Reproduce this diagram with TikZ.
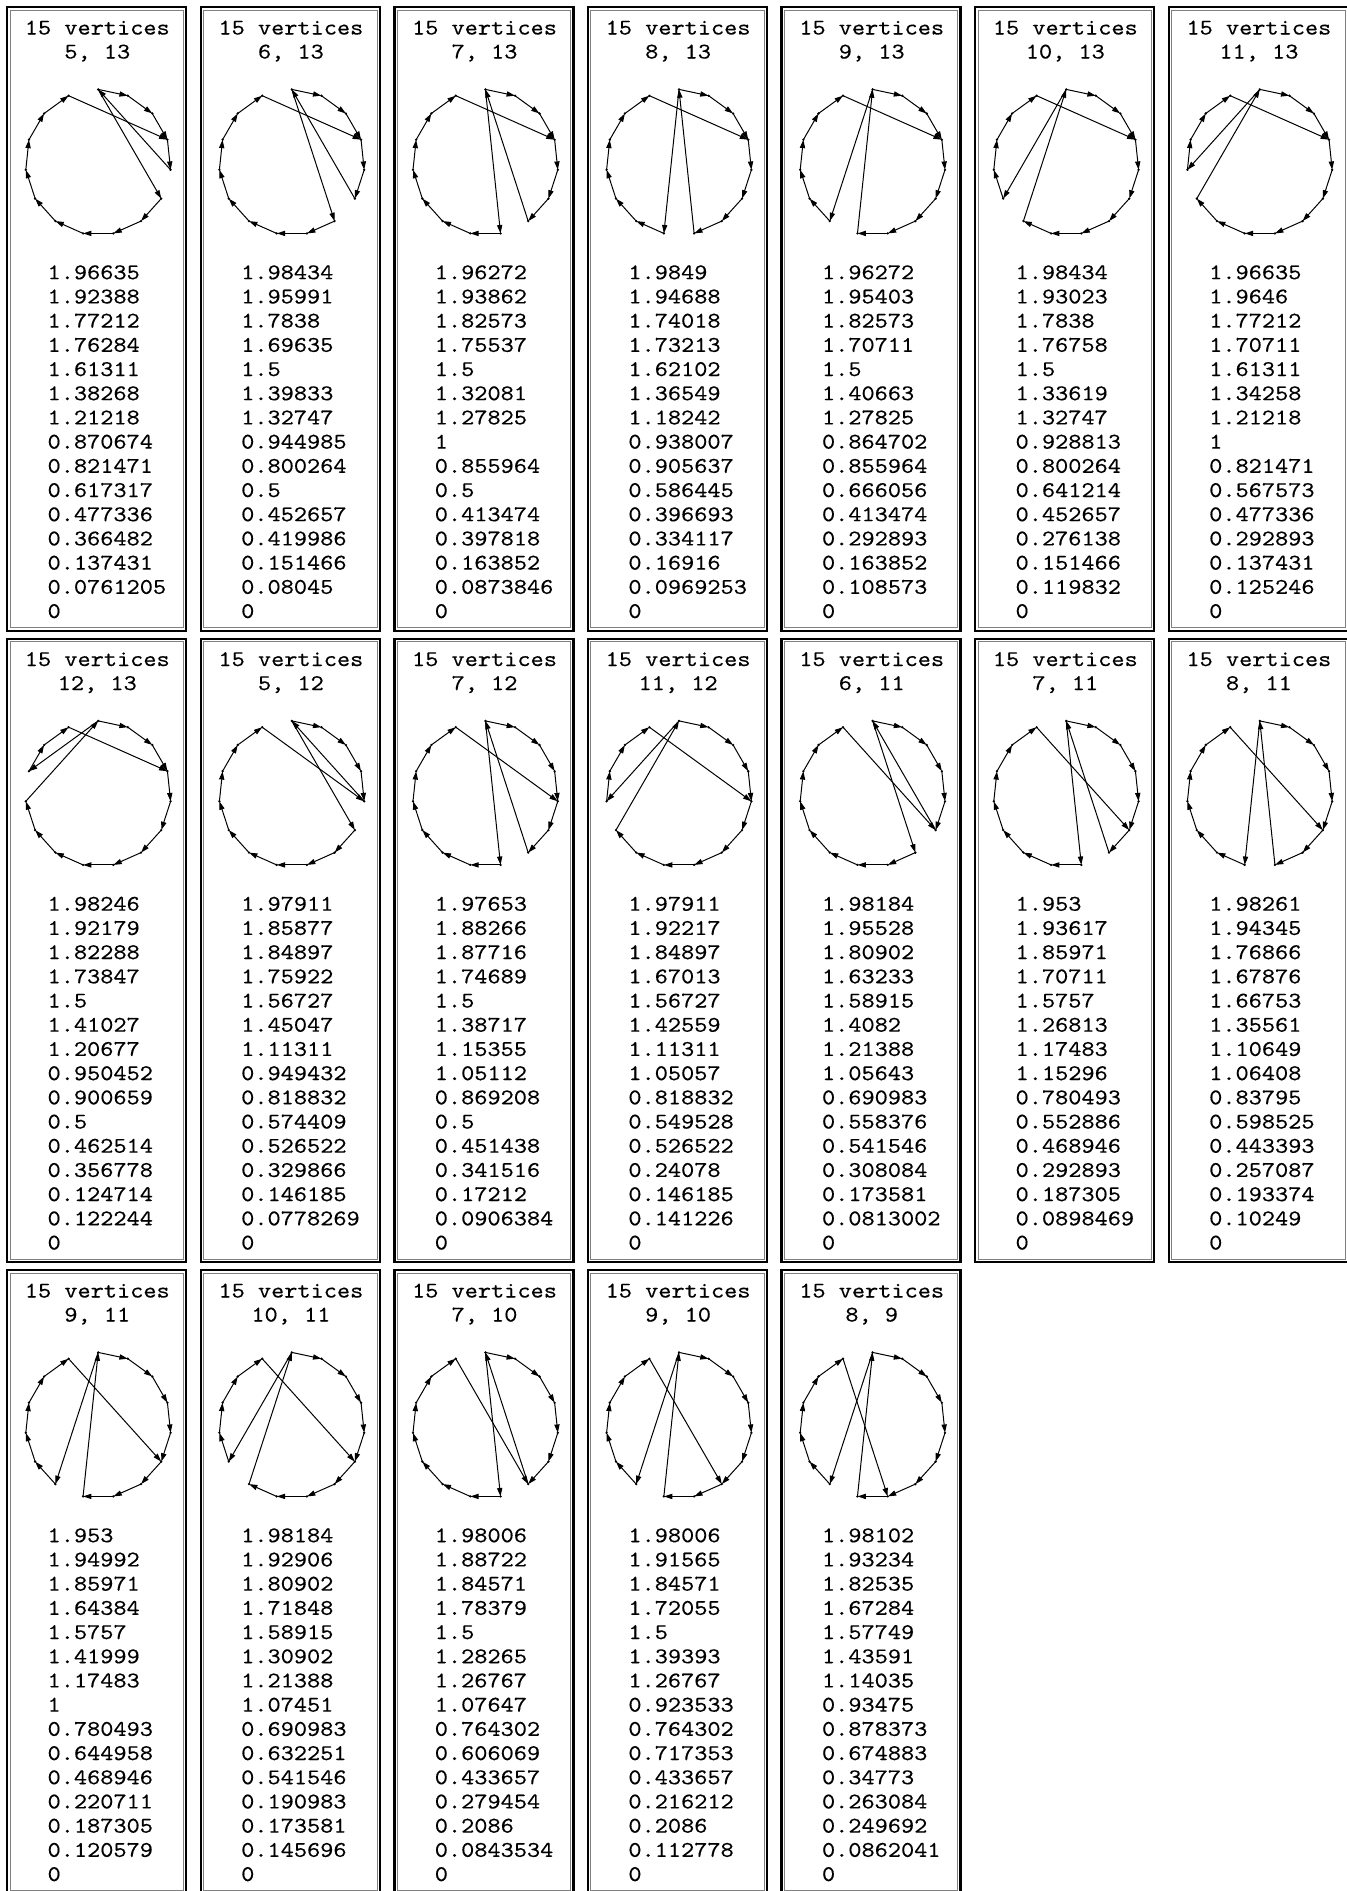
\documentclass[tikz,border=0pt]{standalone}
\usepackage{fontspec}
\usetikzlibrary{arrows.meta}
\newfontfamily\numfont{lmmono10-regular}[Extension=.otf,FakeStretch=1.12,FakeBold=0.3]
\tikzset{>={Triangle[length=4.2pt,width=2.6pt]},
  frame/.style={draw=black,line width=1.2pt},
  innerframe/.style={draw=black!50,line width=0.45pt},
  edge/.style={->,line width=0.5pt},
  lbl/.style={font=\numfont\fontsize{11.2}{12}\selectfont,anchor=base,inner sep=0pt},
  num/.style={font=\numfont\fontsize{11.2}{12}\selectfont,anchor=base west,inner sep=0pt}}
% #1 column, #2 row, #3 #4 cycle lengths, #5 last vertex of the first cycle, #6 target of the closing chord, #7 values
\newcommand{\panel}[7]{%
\begin{scope}[shift={({7.2+193.6*#1},{7.2+631.5*#2})}]
\draw[frame] (0,0) rectangle (179,623.5);
\draw[innerframe] (2.8,2.8) rectangle (176.2,620.7);
\node[lbl] (title) at (90.1,27.3) {15 vertices};
\node[lbl] (pair) at (90.1,51.3) {#3, #4};
\foreach \j in {0,...,14}
  \coordinate (v\j) at ({91+72.8*sin(24*\j)},{155-72.8*cos(24*\j)});
\pgfmathtruncatemacro\lastb{#5-1}
\pgfmathtruncatemacro\next{#5+1}
\foreach \j in {0,...,\lastb}{\pgfmathtruncatemacro\n{\j+1}\draw[edge] (v\j) -- (v\n);}
\draw[edge] (v#5) -- (v0);
\draw[edge] (v0) -- (v\next);
\foreach \j in {\next,...,13}{\pgfmathtruncatemacro\n{\j+1}\draw[edge] (v\j) -- (v\n);}
\draw[edge] (v14) -- (v#6);
\foreach \j in {0,...,14} \fill (v\j) circle (0.65pt);
\foreach \v [count=\i] in {#7}
  \node[num] (val\i) at (40,{272+24.2*(\i-1)}) {\v};
\end{scope}}

\begin{document}
\begin{tikzpicture}[x=0.5pt,y=-0.5pt]
\useasboundingbox (0,0) rectangle (1347,1891);
\fill[white] (0,0) rectangle (1347,1891);
% first row
\panel{0}{0}{5}{13}{4}{3}{1.96635,1.92388,1.77212,1.76284,1.61311,1.38268,1.21218,0.870674,0.821471,0.617317,0.477336,0.366482,0.137431,0.0761205,0}
\panel{1}{0}{6}{13}{5}{3}{1.98434,1.95991,1.7838,1.69635,1.5,1.39833,1.32747,0.944985,0.800264,0.5,0.452657,0.419986,0.151466,0.08045,0}
\panel{2}{0}{7}{13}{6}{3}{1.96272,1.93862,1.82573,1.75537,1.5,1.32081,1.27825,1,0.855964,0.5,0.413474,0.397818,0.163852,0.0873846,0}
\panel{3}{0}{8}{13}{7}{3}{1.9849,1.94688,1.74018,1.73213,1.62102,1.36549,1.18242,0.938007,0.905637,0.586445,0.396693,0.334117,0.16916,0.0969253,0}
\panel{4}{0}{9}{13}{8}{3}{1.96272,1.95403,1.82573,1.70711,1.5,1.40663,1.27825,0.864702,0.855964,0.666056,0.413474,0.292893,0.163852,0.108573,0}
\panel{5}{0}{10}{13}{9}{3}{1.98434,1.93023,1.7838,1.76758,1.5,1.33619,1.32747,0.928813,0.800264,0.641214,0.452657,0.276138,0.151466,0.119832,0}
\panel{6}{0}{11}{13}{10}{3}{1.96635,1.9646,1.77212,1.70711,1.61311,1.34258,1.21218,1,0.821471,0.567573,0.477336,0.292893,0.137431,0.125246,0}
% second row
\panel{0}{1}{12}{13}{11}{3}{1.98246,1.92179,1.82288,1.73847,1.5,1.41027,1.20677,0.950452,0.900659,0.5,0.462514,0.356778,0.124714,0.122244,0}
\panel{1}{1}{5}{12}{4}{4}{1.97911,1.85877,1.84897,1.75922,1.56727,1.45047,1.11311,0.949432,0.818832,0.574409,0.526522,0.329866,0.146185,0.0778269,0}
\panel{2}{1}{7}{12}{6}{4}{1.97653,1.88266,1.87716,1.74689,1.5,1.38717,1.15355,1.05112,0.869208,0.5,0.451438,0.341516,0.17212,0.0906384,0}
\panel{3}{1}{11}{12}{10}{4}{1.97911,1.92217,1.84897,1.67013,1.56727,1.42559,1.11311,1.05057,0.818832,0.549528,0.526522,0.24078,0.146185,0.141226,0}
\panel{4}{1}{6}{11}{5}{5}{1.98184,1.95528,1.80902,1.63233,1.58915,1.4082,1.21388,1.05643,0.690983,0.558376,0.541546,0.308084,0.173581,0.0813002,0}
\panel{5}{1}{7}{11}{6}{5}{1.953,1.93617,1.85971,1.70711,1.5757,1.26813,1.17483,1.15296,0.780493,0.552886,0.468946,0.292893,0.187305,0.0898469,0}
\panel{6}{1}{8}{11}{7}{5}{1.98261,1.94345,1.76866,1.67876,1.66753,1.35561,1.10649,1.06408,0.83795,0.598525,0.443393,0.257087,0.193374,0.10249,0}
% third row
\panel{0}{2}{9}{11}{8}{5}{1.953,1.94992,1.85971,1.64384,1.5757,1.41999,1.17483,1,0.780493,0.644958,0.468946,0.220711,0.187305,0.120579,0}
\panel{1}{2}{10}{11}{9}{5}{1.98184,1.92906,1.80902,1.71848,1.58915,1.30902,1.21388,1.07451,0.690983,0.632251,0.541546,0.190983,0.173581,0.145696,0}
\panel{2}{2}{7}{10}{6}{6}{1.98006,1.88722,1.84571,1.78379,1.5,1.28265,1.26767,1.07647,0.764302,0.606069,0.433657,0.279454,0.2086,0.0843534,0}
\panel{3}{2}{9}{10}{8}{6}{1.98006,1.91565,1.84571,1.72055,1.5,1.39393,1.26767,0.923533,0.764302,0.717353,0.433657,0.216212,0.2086,0.112778,0}
\panel{4}{2}{8}{9}{8}{7}{1.98102,1.93234,1.82535,1.67284,1.57749,1.43591,1.14035,0.93475,0.878373,0.674883,0.34773,0.263084,0.249692,0.0862041,0}
\end{tikzpicture}
\end{document}
